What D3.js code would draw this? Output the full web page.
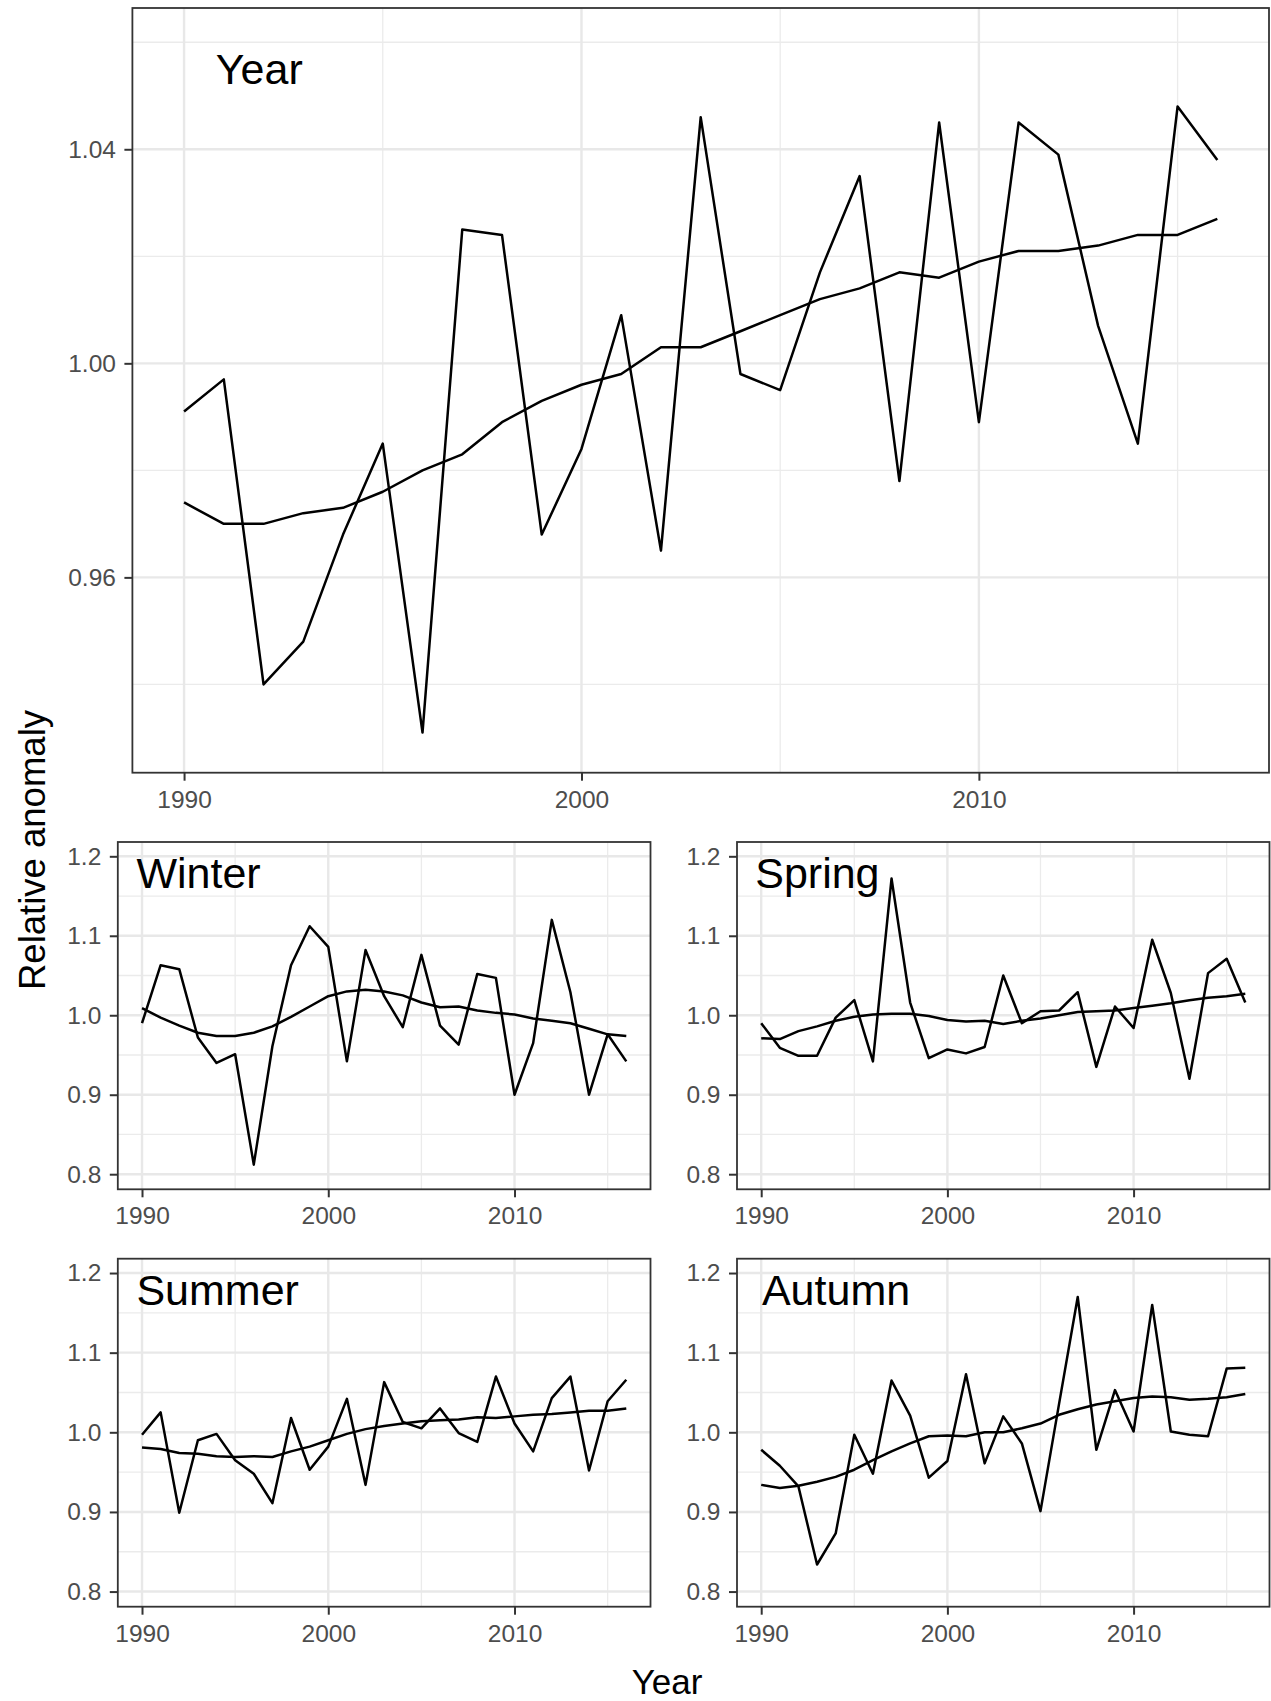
<!DOCTYPE html>
<html>
<head>
<meta charset="utf-8">
<script src="https://cdn.jsdelivr.net/npm/d3@7"></script>
<style>
body { margin: 0; background: #fff; }
text { font-family: "Liberation Sans", Arial, sans-serif; }
</style>
</head>
<body>
<div id="grafico"></div>
<script>
// Datos: anos y anomalias relativas (serie anual y suavizada).
var years = [1990, 1991, 1992, 1993, 1994, 1995, 1996, 1997, 1998, 1999, 2000, 2001, 2002, 2003,
             2004, 2005, 2006, 2007, 2008, 2009, 2010, 2011, 2012, 2013, 2014, 2015, 2016];

var year_raw = [0.991, 0.997, 0.940, 0.948, 0.968, 0.985, 0.931, 1.025, 1.024, 0.968, 0.984, 1.009, 0.965, 1.046,
                0.998, 0.995, 1.017, 1.035, 0.978, 1.045, 0.989, 1.045, 1.039, 1.007, 0.985, 1.048, 1.038];
var year_smooth = [0.974, 0.970, 0.970, 0.972, 0.973, 0.976, 0.980, 0.983, 0.989, 0.993, 0.996, 0.998, 1.003, 1.003,
                   1.006, 1.009, 1.012, 1.014, 1.017, 1.016, 1.019, 1.021, 1.021, 1.022, 1.024, 1.024, 1.027];

var winter_raw = [0.990, 1.063, 1.058, 0.972, 0.940, 0.951, 0.812, 0.961, 1.063, 1.112, 1.086, 0.942, 1.082, 1.024,
                  0.985, 1.076, 0.987, 0.963, 1.052, 1.047, 0.900, 0.965, 1.120, 1.029, 0.900, 0.976, 0.942];
var winter_smooth = [1.009, 0.997, 0.987, 0.978, 0.974, 0.974, 0.978, 0.986, 0.998, 1.011, 1.024, 1.030, 1.032, 1.030,
                     1.025, 1.016, 1.010, 1.011, 1.006, 1.003, 1.001, 0.996, 0.993, 0.990, 0.983, 0.976, 0.974];

var spring_raw = [0.990, 0.959, 0.949, 0.949, 0.997, 1.019, 0.942, 1.172, 1.016, 0.946, 0.957, 0.952, 0.960, 1.050,
                  0.990, 1.005, 1.006, 1.029, 0.935, 1.011, 0.984, 1.095, 1.028, 0.920, 1.053, 1.071, 1.016];
var spring_smooth = [0.971, 0.970, 0.980, 0.986, 0.993, 0.998, 1.001, 1.002, 1.002, 0.999, 0.994, 0.992, 0.993, 0.989,
                     0.993, 0.996, 1.000, 1.004, 1.005, 1.006, 1.009, 1.012, 1.015, 1.019, 1.022, 1.024, 1.027];

var summer_raw = [0.997, 1.025, 0.899, 0.990, 0.998, 0.965, 0.948, 0.911, 1.018, 0.953, 0.982, 1.042, 0.934, 1.063,
                  1.013, 1.005, 1.030, 0.999, 0.988, 1.070, 1.011, 0.976, 1.043, 1.070, 0.952, 1.039, 1.066];
var summer_smooth = [0.981, 0.979, 0.974, 0.973, 0.970, 0.969, 0.970, 0.969, 0.976, 0.982, 0.990, 0.998, 1.004, 1.008,
                     1.011, 1.014, 1.015, 1.016, 1.019, 1.018, 1.020, 1.022, 1.023, 1.025, 1.027, 1.027, 1.030];

var autumn_raw = [0.978, 0.958, 0.932, 0.834, 0.873, 0.997, 0.948, 1.065, 1.021, 0.943, 0.964, 1.073, 0.961, 1.020,
                  0.986, 0.901, 1.036, 1.170, 0.978, 1.053, 1.001, 1.160, 1.001, 0.997, 0.995, 1.080, 1.081];
var autumn_smooth = [0.934, 0.930, 0.933, 0.938, 0.944, 0.953, 0.965, 0.976, 0.986, 0.995, 0.996, 0.995, 1.000, 1.000,
                     1.005, 1.011, 1.022, 1.029, 1.035, 1.039, 1.043, 1.045, 1.044, 1.041, 1.042, 1.044, 1.048];

// Marcas de los ejes.
var x_ticks = [1990, 2000, 2010];
var x_minor = [1995, 2005, 2015];
var year_ticks = [0.96, 1.00, 1.04];
var year_minor = [0.94, 0.98, 1.02, 1.06];
var season_ticks = [0.8, 0.9, 1.0, 1.1, 1.2];
var season_minor = [0.85, 0.95, 1.05, 1.15];

var width = 1271, height = 1701;

var svg = d3.select("#grafico")
   .append("svg")
      .attr("width", width)
      .attr("height", height);

// Paneles: posicion en pixeles, dominio y etiqueta.
var panels = [
   {name: "Year", raw: year_raw, smooth: year_smooth, left: 132.4, right: 1269, top: 8, bottom: 772.7,
    ydom: [0.9235, 1.0664], ticks: year_ticks, minor: year_minor, fmt: ".2f", lx: 1990.8, ly: 1.0522},
   {name: "Winter", raw: winter_raw, smooth: winter_smooth, left: 117.8, right: 650.5, top: 842, bottom: 1189.3,
    ydom: [0.781, 1.218], ticks: season_ticks, minor: season_minor, fmt: ".1f", lx: 1989.7, ly: 1.16},
   {name: "Spring", raw: spring_raw, smooth: spring_smooth, left: 737, right: 1269.5, top: 842, bottom: 1189.3,
    ydom: [0.781, 1.218], ticks: season_ticks, minor: season_minor, fmt: ".1f", lx: 1989.68, ly: 1.16},
   {name: "Summer", raw: summer_raw, smooth: summer_smooth, left: 117.8, right: 650.5, top: 1258.7, bottom: 1606.7,
    ydom: [0.781, 1.218], ticks: season_ticks, minor: season_minor, fmt: ".1f", lx: 1989.7, ly: 1.16},
   {name: "Autumn", raw: autumn_raw, smooth: autumn_smooth, left: 737, right: 1269.5, top: 1258.7, bottom: 1606.7,
    ydom: [0.781, 1.218], ticks: season_ticks, minor: season_minor, fmt: ".1f", lx: 1990.04, ly: 1.16}
];

panels.forEach(function(p) {
   var x = d3.scaleLinear()
      .domain([1988.7, 2017.3])
      .range([p.left, p.right]);
   var y = d3.scaleLinear()
      .domain(p.ydom)
      .range([p.bottom, p.top]);

   var g = svg.append("g");

   // Rejilla menor
   g.selectAll(".vmin").data(x_minor).enter().append("line")
      .attr("x1", function(d) { return x(d); }).attr("x2", function(d) { return x(d); })
      .attr("y1", p.top).attr("y2", p.bottom)
      .attr("stroke", "#ebebeb").attr("stroke-width", 1.3);
   g.selectAll(".hmin").data(p.minor).enter().append("line")
      .attr("x1", p.left).attr("x2", p.right)
      .attr("y1", function(d) { return y(d); }).attr("y2", function(d) { return y(d); })
      .attr("stroke", "#ebebeb").attr("stroke-width", 1.3);

   // Rejilla mayor
   g.selectAll(".vmaj").data(x_ticks).enter().append("line")
      .attr("x1", function(d) { return x(d); }).attr("x2", function(d) { return x(d); })
      .attr("y1", p.top).attr("y2", p.bottom)
      .attr("stroke", "#e8e8e8").attr("stroke-width", 2.4);
   g.selectAll(".hmaj").data(p.ticks).enter().append("line")
      .attr("x1", p.left).attr("x2", p.right)
      .attr("y1", function(d) { return y(d); }).attr("y2", function(d) { return y(d); })
      .attr("stroke", "#e8e8e8").attr("stroke-width", 2.4);

   // Lineas de datos
   var linea = d3.line()
      .x(function(d, i) { return x(years[i]); })
      .y(function(d) { return y(d); });

   [p.raw, p.smooth].forEach(function(serie) {
      g.append("path")
         .datum(serie)
         .attr("fill", "none")
         .attr("stroke", "black")
         .attr("stroke-width", 2.5)
         .attr("stroke-linejoin", "round")
         .attr("d", linea);
   });

   // Borde del panel
   g.append("rect")
      .attr("x", p.left).attr("y", p.top)
      .attr("width", p.right - p.left).attr("height", p.bottom - p.top)
      .attr("fill", "none")
      .attr("stroke", "#333333")
      .attr("stroke-width", 1.8);

   // Ejes
   var ax = g.append("g")
      .attr("transform", "translate(0," + p.bottom + ")")
      .call(d3.axisBottom(x).tickValues(x_ticks).tickFormat(d3.format("d")).tickSize(8).tickPadding(9.5));
   var ay = g.append("g")
      .attr("transform", "translate(" + p.left + ",0)")
      .call(d3.axisLeft(y).tickValues(p.ticks).tickFormat(d3.format(p.fmt)).tickSize(8).tickPadding(8.5));

   [ax, ay].forEach(function(a) {
      a.select(".domain").remove();
      a.selectAll(".tick line").attr("stroke", "#333333").attr("stroke-width", 2);
      a.selectAll(".tick text")
         .attr("fill", "#4d4d4d")
         .style("font-size", "24.5px")
         .style("font-family", "'Liberation Sans', Arial, sans-serif");
   });

   // Etiqueta del panel
   g.append("text")
      .attr("x", x(p.lx))
      .attr("y", y(p.ly))
      .attr("text-anchor", "start")
      .style("font-size", "43px")
      .style("fill", "black")
      .text(p.name);
});

// Titulos de los ejes
svg.append("text")
   .attr("text-anchor", "middle")
   .attr("transform", "translate(45,850) rotate(-90)")
   .style("font-size", "36.5px")
   .style("fill", "black")
   .text("Relative anomaly");

svg.append("text")
   .attr("text-anchor", "middle")
   .attr("x", 667)
   .attr("y", 1694)
   .style("font-size", "35px")
   .style("fill", "black")
   .text("Year");
</script>
</body>
</html>
